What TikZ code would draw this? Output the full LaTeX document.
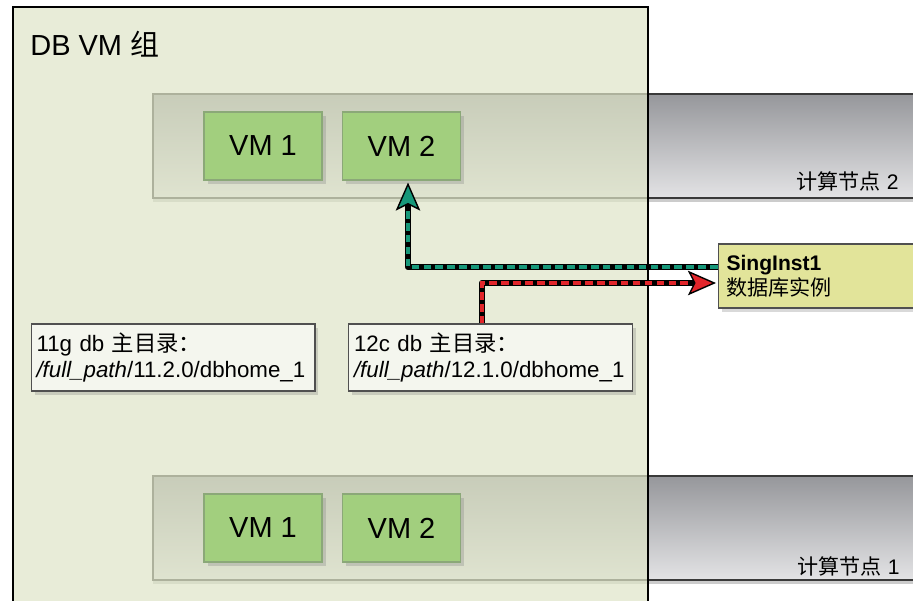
\documentclass[tikz,border=0pt]{standalone}
\usepackage{fontspec}
\setmainfont{Liberation Sans}
\newfontfamily\cjk{Noto Sans CJK SC}
\usetikzlibrary{arrows.meta,positioning,calc,shadows}
\definecolor{groupfill}{HTML}{DEE4C7}
\definecolor{vmfill}{HTML}{A2CF7E}
\definecolor{vmstroke}{HTML}{8BA878}
\definecolor{homefill}{HTML}{F4F6EE}
\definecolor{boxstroke}{HTML}{505050}
\definecolor{instfill}{HTML}{E2E49A}
\definecolor{bartop}{HTML}{96979B}
\definecolor{barbottom}{HTML}{E3E3E5}
\definecolor{barstroke}{HTML}{3A3A3A}
\definecolor{linkgreen}{HTML}{17987A}
\definecolor{linkred}{HTML}{E2262B}

\begin{document}
\begin{tikzpicture}[
  x=0.02cm,
  y=-0.02cm,
  bigtext/.style={font=\fontsize{16.5}{19}\selectfont},
  smalltext/.style={font=\fontsize{12}{14.4}\selectfont},
  hometext/.style={font=\fontsize{12.7}{14.8}\selectfont},
  vmbox/.style={
    bigtext,
    draw=vmstroke,
    fill=vmfill,
    line width=0.6pt,
    minimum width=2.36cm,
    minimum height=1.36cm,
    drop shadow={shadow xshift=2pt, shadow yshift=-2pt, opacity=0.3}
  },
  homebox/.style={
    hometext,
    draw=boxstroke,
    fill=homefill,
    line width=0.6pt,
    align=left,
    minimum width=5.68cm,
    minimum height=1.34cm,
    text width=5.46cm,
    inner xsep=0.11cm,
    drop shadow={shadow xshift=2pt, shadow yshift=-2pt, opacity=0.3}
  },
  instbox/.style={
    smalltext,
    draw=boxstroke,
    fill=instfill,
    line width=0.6pt,
    align=left,
    anchor=west,
    minimum width=4.8cm,
    minimum height=1.28cm,
    text width=4.5cm,
    inner xsep=0.16cm,
    drop shadow={shadow xshift=2pt, shadow yshift=-2pt, opacity=0.3}
  },
  nodebar/.style={
    draw=barstroke,
    line width=0.8pt,
    top color=bartop,
    bottom color=barbottom,
    drop shadow={shadow xshift=0pt, shadow yshift=-2.5pt, opacity=0.4}
  },
  barlabel/.style={smalltext, anchor=east, inner sep=0pt},
  linkback/.style={draw=black, line width=3.6pt, line join=round},
  linkdash/.style={line width=1.8pt, dash pattern=on 4.4pt off 2.4pt}
]

\useasboundingbox (0,0) rectangle (913,600);
\clip (0,0) rectangle (913,600);

% compute nodes
\path[nodebar] (153,94) rectangle (960,198);
\path[nodebar] (153,476) rectangle (960,580);

% VM group
\draw[fill=groupfill, fill opacity=0.7, line width=1.3pt] (13,7) rectangle (648,620);
\node[bigtext, anchor=west, inner sep=0pt] (title) at (30,44) {DB VM {\cjk 组}};

% VMs
\node[vmbox] (vmta) at (263,146) {VM 1};
\node[vmbox] (vmtb) at (401.5,146) {VM 2};
\node[vmbox] (vmba) at (263,528) {VM 1};
\node[vmbox] (vmbb) at (401.5,528) {VM 2};

\node[barlabel] (lab2) at (899,181) {{\cjk 计算节点} 2};
\node[barlabel] (lab1) at (900,566) {{\cjk 计算节点} 1};

% homes and instance
\node[homebox] (homea) at (173,357.5)
  {11g db {\cjk 主目录：}\\\textit{/full\_path}/11.2.0/dbhome\_1};
\node[homebox] (homeb) at (490.5,357.5)
  {12c db {\cjk 主目录：}\\\textit{/full\_path}/12.1.0/dbhome\_1};
\node[instbox] (sing) at (718,276)
  {\textbf{SingInst1}\\{\cjk 数据库实例}};

% links
\draw[linkback, -{Stealth[length=16pt, width=14pt, inset=3.5pt, fill=linkgreen, line width=0.8pt]}]
  ($(sing.west)+(0,-9)$) -| ($(vmtb.south)+(6.5,2)$);
\draw[linkdash, draw=linkgreen, shorten >=14pt]
  ($(sing.west)+(0,-9)$) -| ($(vmtb.south)+(6.5,2)$);

\draw[linkback, -{Stealth[length=16pt, width=14pt, inset=3.5pt, fill=linkred, line width=0.8pt]}]
  ($(homeb.north)+(-8.5,0)$) |- ($(sing.west)+(-2,7)$);
\draw[linkdash, draw=linkred, shorten >=14pt]
  ($(homeb.north)+(-8.5,0)$) |- ($(sing.west)+(-2,7)$);

\end{tikzpicture}
\end{document}
